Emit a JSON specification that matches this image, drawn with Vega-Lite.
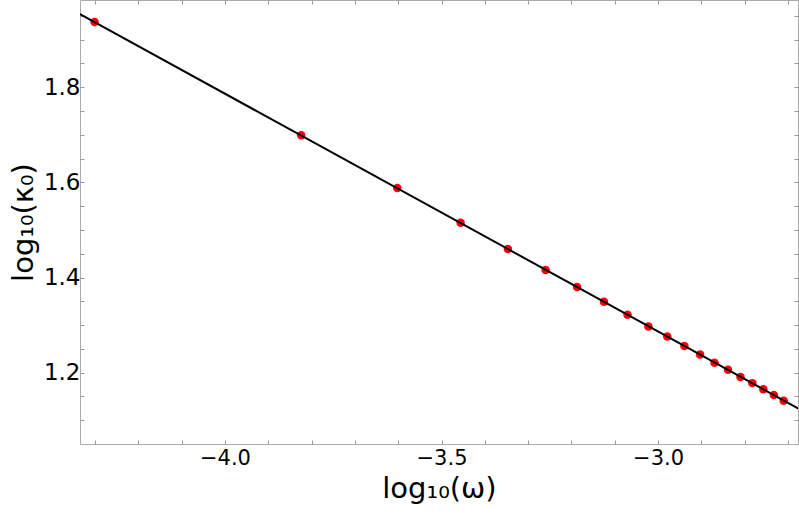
{
  "$schema": "https://vega.github.io/schema/vega-lite/v6.json",
  "width": 718,
  "height": 444,
  "autosize": {"type": "none"},
  "padding": {"left": 80, "top": 0, "right": 1, "bottom": 71},
  "background": "white",
  "config": {
    "view": {"stroke": "#aaaaaa", "strokeWidth": 1},
    "font": "DejaVu Sans",
    "axis": {
      "domain": false,
      "grid": false,
      "tickColor": "#999999",
      "tickSize": -4,
      "tickWidth": 1,
      "labelFont": "DejaVu Sans",
      "labelFontSize": 21,
      "labelColor": "black",
      "labelOverlap": false,
      "labelFlush": false,
      "titleFont": "DejaVu Sans",
      "titleFontSize": 29,
      "titleFontWeight": "normal",
      "titleColor": "black"
    }
  },
  "datasets": {
    "pts": [
      {"logw": -4.3010, "logk": 1.937},
      {"logw": -3.8239, "logk": 1.699},
      {"logw": -3.6021, "logk": 1.588},
      {"logw": -3.4559, "logk": 1.515},
      {"logw": -3.3468, "logk": 1.460},
      {"logw": -3.2596, "logk": 1.416},
      {"logw": -3.1871, "logk": 1.380},
      {"logw": -3.1249, "logk": 1.349},
      {"logw": -3.0706, "logk": 1.322},
      {"logw": -3.0223, "logk": 1.297},
      {"logw": -2.9788, "logk": 1.276},
      {"logw": -2.9393, "logk": 1.256},
      {"logw": -2.9031, "logk": 1.238},
      {"logw": -2.8697, "logk": 1.221},
      {"logw": -2.8386, "logk": 1.206},
      {"logw": -2.8097, "logk": 1.191},
      {"logw": -2.7825, "logk": 1.178},
      {"logw": -2.7570, "logk": 1.165},
      {"logw": -2.7328, "logk": 1.153},
      {"logw": -2.7100, "logk": 1.141}
    ],
    "fit": [
      {"logw": -4.40, "logk": 1.9865},
      {"logw": -2.60, "logk": 1.0865}
    ]
  },
  "resolve": {"axis": {"x": "independent", "y": "independent"}},
  "layer": [
    {
      "data": {"name": "pts"},
      "mark": {"type": "point", "filled": true, "shape": "circle", "size": 72, "color": "#ff0000", "opacity": 1, "strokeWidth": 0},
      "encoding": {
        "x": {
          "field": "logw", "type": "quantitative",
          "scale": {"domain": [-4.3346, -2.677], "nice": false, "zero": false},
          "axis": {
            "orient": "bottom",
            "title": "log₁₀(ω)",
            "values": [-4.3, -4.2, -4.1, -4.0, -3.9, -3.8, -3.7, -3.6, -3.5, -3.4, -3.3, -3.2, -3.1, -3.0, -2.9, -2.8, -2.7],
            "labelExpr": "abs(datum.value*2 - round(datum.value*2)) < 0.001 ? format(datum.value, '.1f') : ''",
            "labelPadding": 7,
            "titlePadding": 6
          }
        },
        "y": {
          "field": "logk", "type": "quantitative",
          "scale": {"domain": [1.05, 1.9835], "nice": false, "zero": false},
          "axis": {
            "orient": "left",
            "title": "log₁₀(κ₀)",
            "values": [1.1, 1.15, 1.2, 1.25, 1.3, 1.35, 1.4, 1.45, 1.5, 1.55, 1.6, 1.65, 1.7, 1.75, 1.8, 1.85, 1.9, 1.95],
            "labelExpr": "abs(datum.value*5 - round(datum.value*5)) < 0.001 ? format(datum.value, '.1f') : ''",
            "labelFontSize": 23,
            "labelPadding": 4,
            "titlePadding": 5
          }
        }
      }
    },
    {
      "data": {"name": "fit"},
      "mark": {"type": "line", "color": "black", "strokeWidth": 2, "clip": true},
      "encoding": {
        "x": {
          "field": "logw", "type": "quantitative",
          "axis": {
            "orient": "top",
            "title": null,
            "labels": false,
            "values": [-4.3, -4.2, -4.1, -4.0, -3.9, -3.8, -3.7, -3.6, -3.5, -3.4, -3.3, -3.2, -3.1, -3.0, -2.9, -2.8, -2.7]
          }
        },
        "y": {
          "field": "logk", "type": "quantitative",
          "axis": {
            "orient": "right",
            "title": null,
            "labels": false,
            "values": [1.1, 1.15, 1.2, 1.25, 1.3, 1.35, 1.4, 1.45, 1.5, 1.55, 1.6, 1.65, 1.7, 1.75, 1.8, 1.85, 1.9, 1.95]
          }
        }
      }
    }
  ]
}
